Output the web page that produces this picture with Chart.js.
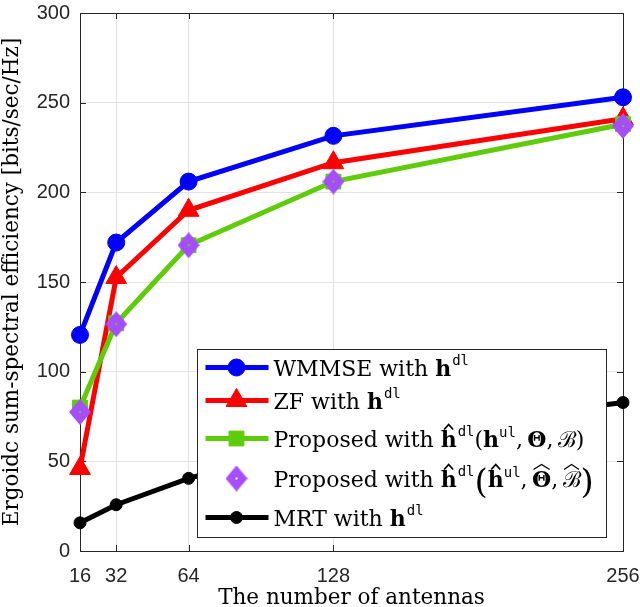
<!DOCTYPE html>
<html>
<head>
<meta charset="utf-8">
<script src="https://cdn.jsdelivr.net/npm/chart.js@4.4.1/dist/chart.umd.min.js"></script>
<style>
  html, body { margin: 0; padding: 0; background: #fff; }
  #wrap { width: 640px; height: 607px; }
</style>
</head>
<body>
<div id="wrap"><canvas id="chart" width="640" height="607"></canvas></div>
<script>
// --- Values ---
const antennas = [16, 32, 64, 128, 256];
const wmmseRate = [120.5, 172, 206, 231.5, 253];
const zfRate = [46, 152.5, 190, 216.5, 241];
const proposedRate = [80, 127, 170.5, 206, 238];
const proposedEstRate = [77.5, 126.5, 170.5, 206, 237];
const mrtRate = [15.7, 25.8, 40.5, 62, 82.8];
const yTicks = [0, 50, 100, 150, 200, 250, 300];

const serif = '"DejaVu Serif", serif';
const sans = '"Liberation Sans", Arial, sans-serif';
const axisColor = '#262626';

const toPoints = (vals) => vals.map((v, i) => ({ x: antennas[i], y: v }));

// MATLAB-ish diamond marker with the little hole in the middle
function makeDiamond(color) {
  const c = document.createElement('canvas');
  c.width = 22; c.height = 26;
  const g = c.getContext('2d');
  g.fillStyle = color;
  g.beginPath();
  g.moveTo(11, 0); g.lineTo(22, 13); g.lineTo(11, 26); g.lineTo(0, 13);
  g.closePath();
  g.fill();
  g.clearRect(10, 12, 2, 2);
  return c;
}
const diamond = makeDiamond('#a64dff');

// --- Rich text for the legend (bold vectors, superscripts, hats) ---
const F = {
  r: '22px ' + serif,
  b: 'bold 22px ' + serif,
  sup: '14px "DejaVu Sans Mono", monospace',
  big: '34px ' + serif
};
const W = (t, f, extra) => Object.assign({ t: t, f: f || 'r' }, extra || {});
const dl = W('dl', 'sup', { dy: -11, pad: 1 });
const ul = W('ul', 'sup', { dy: -10, pad: 0 });
const comma = W(',\u2009');

const legendText = [
  [W('WMMSE with '), W('h', 'b'), dl],
  [W('ZF with '), W('h', 'b'), dl],
  [W('Proposed with '), W('h', 'b', { hat: 'small' }), dl, W('('), W('h', 'b'), ul, comma, W('\u0398', 'b'), comma, W('\u212C'), W(')')],
  [W('Proposed with '), W('h', 'b', { hat: 'small' }), dl, W('(', 'big', { dy: 6 }), W('h', 'b', { hat: 'small' }), ul, comma,
    W('\u0398', 'b', { hat: 'wide' }), comma, W('\u212C', 'r', { hat: 'wide' }), W(')', 'big', { dy: 6 })],
  [W('MRT with '), W('h', 'b'), dl]
];

function drawRich(ctx, segs, x, y) {
  segs.forEach(s => {
    ctx.font = F[s.f];
    const w = ctx.measureText(s.t).width;
    const px = x + (s.pad || 0);
    ctx.fillText(s.t, px, y + (s.dy || 0));
    if (s.hat) {
      const small = s.hat === 'small';
      const top = y - 21;
      const half = small ? 4.5 : w / 2 - 1.5;
      const cx = px + w / 2;
      ctx.save();
      ctx.lineWidth = small ? 1.8 : 1.2;
      ctx.beginPath();
      ctx.moveTo(cx - half, top + 4);
      ctx.lineTo(cx, top - 1);
      ctx.lineTo(cx + half, top + 4);
      ctx.stroke();
      ctx.restore();
    }
    x = px + w;
  });
}

// box, inward ticks (MATLAB style)
const boxPlugin = {
  id: 'box',
  beforeDatasetsDraw(chart) {
    const { ctx, chartArea: a, scales } = chart;
    ctx.save();
    ctx.strokeStyle = axisColor;
    ctx.lineWidth = 1;
    ctx.strokeRect(a.left + 0.5, a.top + 0.5, a.right - a.left, a.bottom - a.top);
    ctx.beginPath();
    antennas.forEach(v => {
      const px = Math.round(scales.x.getPixelForValue(v)) + 0.5;
      ctx.moveTo(px, a.bottom); ctx.lineTo(px, a.bottom - 6);
      ctx.moveTo(px, a.top); ctx.lineTo(px, a.top + 6);
    });
    yTicks.forEach(v => {
      const py = Math.round(scales.y.getPixelForValue(v)) + 0.5;
      ctx.moveTo(a.left, py); ctx.lineTo(a.left + 6, py);
      ctx.moveTo(a.right, py); ctx.lineTo(a.right - 6, py);
    });
    ctx.stroke();
    ctx.restore();
  }
};

const legendPlugin = {
  id: 'boxLegend',
  afterDatasetsDraw(chart) {
    const { ctx, chartArea: a } = chart;
    const bx = a.left + 117.5, by = a.top + 336.5, bw = 409, bh = 188;
    const rowY = [18, 51, 89, 129, 168];
    ctx.save();
    ctx.fillStyle = '#fff';
    ctx.fillRect(bx, by, bw, bh);
    ctx.strokeStyle = axisColor;
    ctx.lineWidth = 1;
    ctx.strokeRect(bx, by, bw, bh);

    chart.data.datasets.forEach((ds, i) => {
      const cy = by + rowY[i];
      if (ds.showLine !== false) {
        ctx.strokeStyle = ds.borderColor;
        ctx.lineWidth = ds.borderWidth;
        ctx.beginPath();
        ctx.moveTo(bx + 8, cy); ctx.lineTo(bx + 71, cy);
        ctx.stroke();
      }
      ctx.fillStyle = ds.pointBackgroundColor;
      ctx.strokeStyle = ds.pointBorderColor;
      ctx.lineWidth = ds.pointBorderWidth;
      Chart.helpers.drawPoint(ctx, {
        pointStyle: ds.pointStyle, radius: ds.pointRadius, rotation: 0, borderWidth: ds.pointBorderWidth
      }, bx + 39, cy);
      ctx.fillStyle = '#000';
      ctx.textBaseline = 'alphabetic';
      ctx.textAlign = 'left';
      ctx.strokeStyle = '#000';
      drawRich(ctx, legendText[i], bx + 76, cy + 8);
    });
    ctx.restore();
  }
};

const series = (label, vals, color, style, radius, order, extra) => Object.assign({
  label: label,
  data: toPoints(vals),
  borderColor: color,
  backgroundColor: color,
  borderWidth: 5,
  pointStyle: style,
  pointRadius: radius,
  pointHoverRadius: radius,
  pointBackgroundColor: color,
  pointBorderColor: color,
  pointBorderWidth: 1,
  tension: 0,
  clip: false,
  order: order
}, extra || {});

new Chart(document.getElementById('chart'), {
  type: 'line',
  data: {
    datasets: [
      series('WMMSE with h^dl', wmmseRate, '#0000ff', 'circle', 8.5, 5),
      series('ZF with h^dl', zfRate, '#ff0000', 'triangle', 12, 4),
      series('Proposed with h^dl(h^ul, Theta, B)', proposedRate, '#5fcc0a', 'rect', 10.5, 3),
      series('Proposed with h^dl(h^ul, Theta^, B^)', proposedEstRate, '#a64dff', diamond, 12, 2, { showLine: false }),
      series('MRT with h^dl', mrtRate, '#000000', 'circle', 6, 1)
    ]
  },
  options: {
    responsive: false,
    animation: false,
    events: [],
    layout: { padding: { top: 8, right: 17, left: 0, bottom: 0 } },
    plugins: { legend: { display: false }, tooltip: { enabled: false } },
    scales: {
      x: {
        type: 'linear',
        min: 16,
        max: 256,
        afterBuildTicks: (scale) => { scale.ticks = antennas.map(v => ({ value: v })); },
        afterFit: (scale) => { scale.height = 56; scale.paddingLeft = 0; scale.paddingRight = 0; },
        grid: { color: '#e3e3e3', drawTicks: false },
        border: { display: false },
        ticks: { autoSkip: false, maxRotation: 0, padding: 13, color: axisColor, font: { family: sans, size: 20 } },
        title: {
          display: true, text: 'The number of antennas', color: '#000',
          font: { family: serif, size: 21.5, lineHeight: 0.8 }, padding: { top: 0, bottom: 0 }
        }
      },
      y: {
        min: 0,
        max: 300,
        afterBuildTicks: (scale) => { scale.ticks = yTicks.map(v => ({ value: v })); },
        afterFit: (scale) => { scale.width = 80; scale.paddingTop = 0; scale.paddingBottom = 0; },
        grid: { color: '#e3e3e3', drawTicks: false },
        border: { display: false },
        ticks: { padding: 10, color: axisColor, font: { family: sans, size: 20 } },
        title: {
          display: true, text: 'Ergoidc sum-spectral efficiency [bits/sec/Hz]', color: '#000',
          font: { family: serif, size: 21.5, lineHeight: 1.1 }, padding: { top: 1, bottom: 0 }
        }
      }
    }
  },
  plugins: [boxPlugin, legendPlugin]
});
</script>
</body>
</html>
